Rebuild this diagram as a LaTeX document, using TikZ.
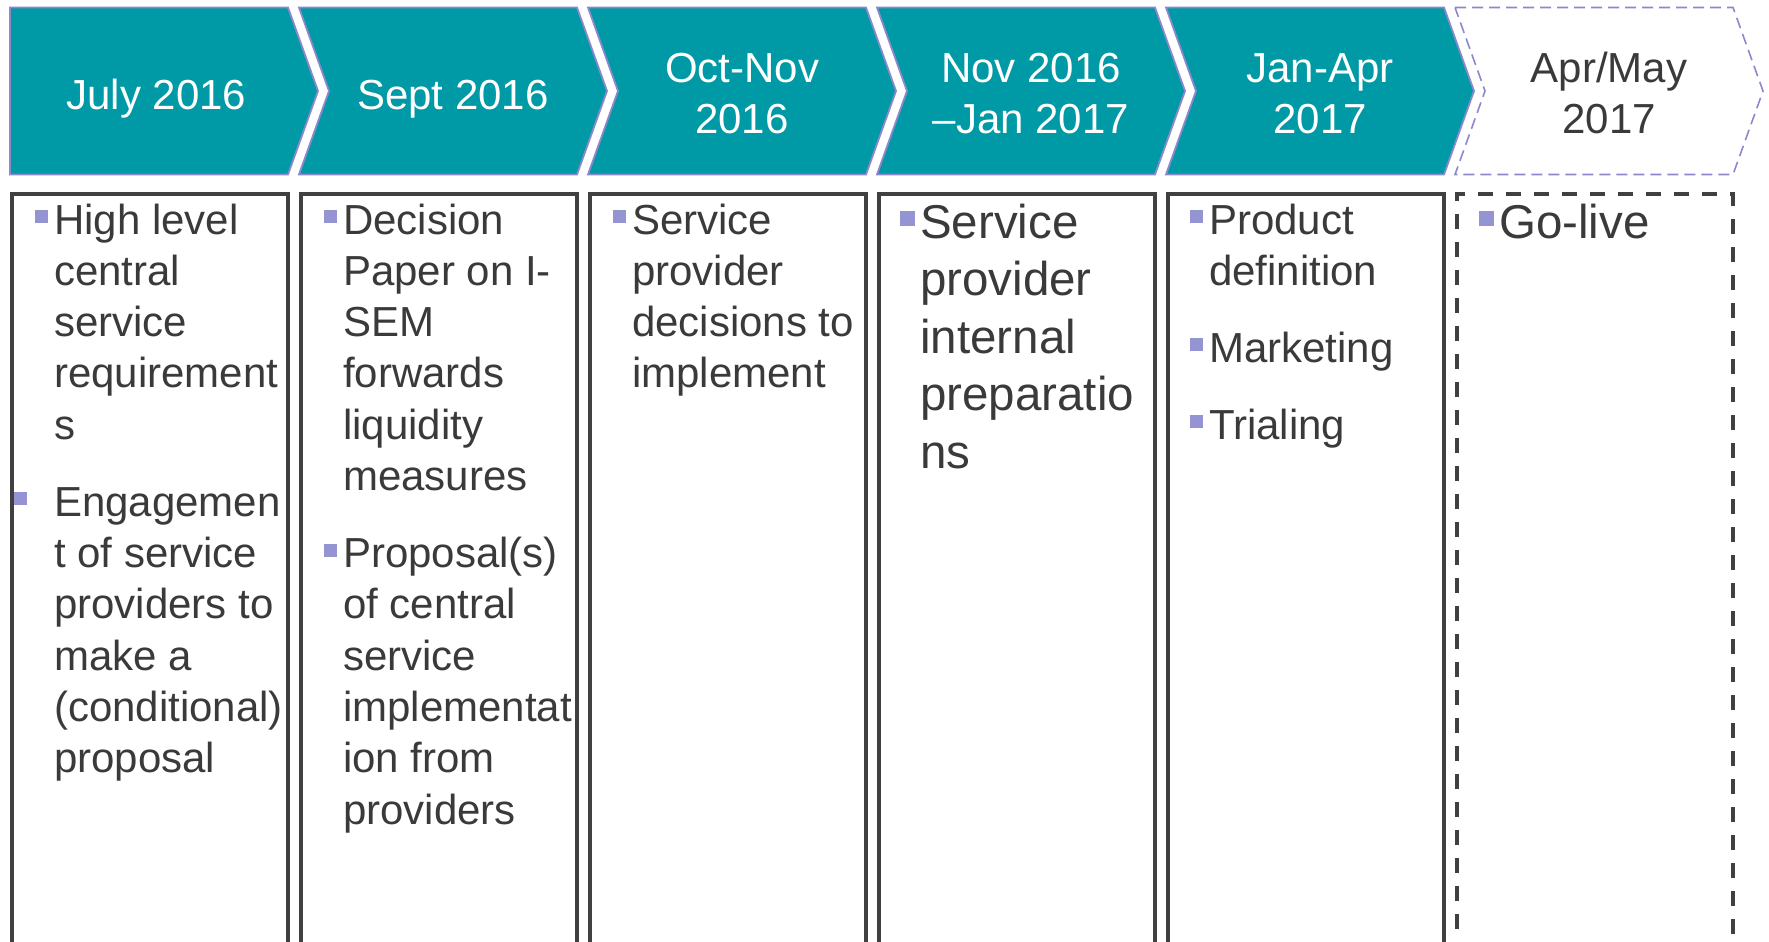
\documentclass[tikz,border=0pt]{standalone}
\usepackage{fontspec}
\setmainfont{Liberation Sans}

\definecolor{stageteal}{RGB}{0,153,166}
\definecolor{edgelav}{RGB}{140,136,204}
\definecolor{bulletlav}{RGB}{148,148,210}
\definecolor{inkgray}{RGB}{58,58,58}
\definecolor{boxgray}{RGB}{64,64,64}

% centred multi-line label whose baseline is that of its first line
\newcommand\stagelabel[1]{\vtop{\hsize=320pt\parindent=0pt\centering #1\par}}
% small square bullet hung to the left of the text; #1 = gap to the text
\newcommand\sqbullet[1]{\leavevmode\llap{\textcolor{bulletlav}{\rule[0.26em]{0.31em}{0.31em}}\hspace{#1}}}
% bullet list block, baseline at its first line
\newcommand\notelist[1]{\vtop{\hsize=420pt\parindent=0pt\parskip=25.7pt\raggedright #1\par}}

\tikzset{
  stage/.style={fill=stageteal, draw=edgelav, line width=1.8pt, line join=miter},
  stagenext/.style={fill=white, draw=edgelav, line width=1.6pt, dash pattern=on 11pt off 6pt},
  stagetext/.style={text=white, inner sep=0pt, anchor=base, font=\fontsize{42}{51.3}\selectfont},
  column/.style={draw=boxgray, line width=3.8pt, anchor=north west,
    minimum width=276pt, minimum height=800pt, inner sep=0pt},
  notes/.style={text=inkgray, inner sep=0pt, anchor=base west, font=\fontsize{42}{51.3}\selectfont},
  bignotes/.style={notes, font=\fontsize{47.5}{57.5}\selectfont},
}

\begin{document}
\begin{tikzpicture}[x=1pt,y=-1pt]
\useasboundingbox (0,0) rectangle (1769,942);
\clip (0,0) rectangle (1769,942);

% ---- timeline stages ----
\path[stage] (10,7.5) -- (288,7.5) -- (318,91) -- (288,174.5) -- (10,174.5) -- cycle;
\path[stage] (299,7.5) -- (577,7.5) -- (607,91) -- (577,174.5) -- (299,174.5) -- (329,91) -- cycle;
\path[stage] (588,7.5) -- (866,7.5) -- (896,91) -- (866,174.5) -- (588,174.5) -- (618,91) -- cycle;
\path[stage] (877,7.5) -- (1155,7.5) -- (1185,91) -- (1155,174.5) -- (877,174.5) -- (907,91) -- cycle;
\path[stage] (1166,7.5) -- (1444,7.5) -- (1474,91) -- (1444,174.5) -- (1166,174.5) -- (1196,91) -- cycle;
\path[stagenext] (1455,7.5) -- (1733,7.5) -- (1763,91) -- (1733,174.5) -- (1455,174.5) -- (1485,91) -- cycle;

\node[stagetext] (s1) at (156.5,109.4) {\stagelabel{July 2016}};
\node[stagetext] (s2) at (453,109.4) {\stagelabel{Sept 2016}};
\node[stagetext] (s3) at (742,82) {\stagelabel{Oct-Nov\\2016}};
\node[stagetext] (s4) at (1031,82) {\stagelabel{Nov 2016\\–Jan 2017}};
\node[stagetext] (s5) at (1320,82) {\stagelabel{Jan-Apr\\2017}};
\node[stagetext, text=inkgray] (s6) at (1609,82) {\stagelabel{Apr/May\\2017}};

% ---- activity columns ----
\node[column] (c1) at (10,192) {};
\node[column] (c2) at (299,192) {};
\node[column] (c3) at (588,192) {};
\node[column] (c4) at (877,192) {};
\node[column] (c5) at (1166,192) {};
\node[column, dash pattern=on 15pt off 13pt] (c6) at (1455,192) {};

\node[notes] (n1) at (54,234) {\notelist{%
  \sqbullet{6pt}High level\\central\\service\\requirement\\s\par
  \sqbullet{27pt}Engagemen\\t of service\\providers to\\make a\\(conditional)\\proposal}};
\node[notes] (n2) at (343,234) {\notelist{%
  \sqbullet{6pt}Decision\\Paper on I-\\SEM\\forwards\\liquidity\\measures\par
  \sqbullet{6pt}Proposal(s)\\of central\\service\\implementat\\ion from\\providers}};
\node[notes] (n3) at (632,234) {\notelist{%
  \sqbullet{6pt}Service\\provider\\decisions to\\implement}};
\node[bignotes] (n4) at (920,238) {\notelist{%
  \sqbullet{5pt}Service\\provider\\internal\\preparatio\\ns}};
\node[notes] (n5) at (1209,234) {\notelist{%
  \sqbullet{6pt}Product\\definition\par
  \sqbullet{6pt}Marketing\par
  \sqbullet{6pt}Trialing}};
\node[bignotes] (n6) at (1499,238) {\notelist{%
  \sqbullet{5pt}Go-live}};
\end{tikzpicture}
\end{document}
